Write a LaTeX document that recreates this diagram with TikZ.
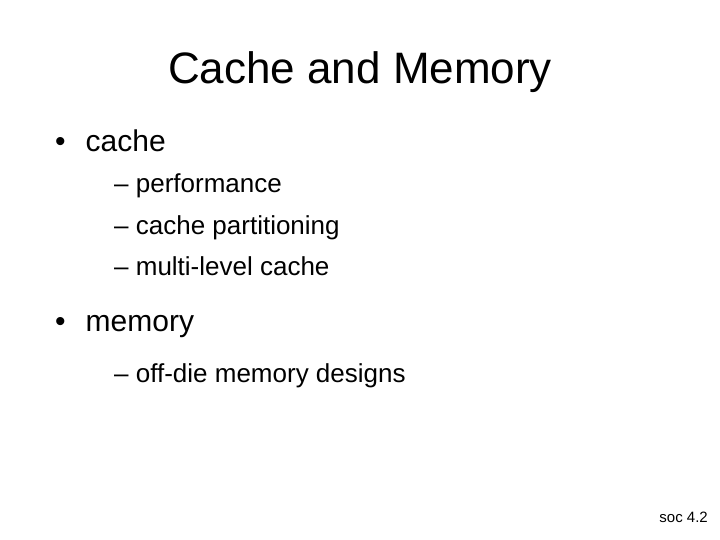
\documentclass[tikz,border=0pt]{standalone}
\usepackage{fontspec}
\setmainfont{Liberation Sans}
\begin{document}
\begin{tikzpicture}[x=1pt,y=-1pt,
  title/.style={anchor=base,font=\fontsize{44}{48}\selectfont,inner sep=0},
  lvlone/.style={anchor=base west,font=\fontsize{30}{34}\selectfont,inner sep=0},
  lvltwo/.style={anchor=base west,font=\fontsize{26}{30}\selectfont,inner sep=0},
  foot/.style={anchor=base east,font=\fontsize{15}{17}\selectfont,inner sep=0}]
\useasboundingbox (0,0) rectangle (720,540);
\node[title] (t) at (360,84) {Cache and Memory};
\node[lvlone] (b1) at (55,152) {•\hspace{20pt}cache};
\node[lvltwo] (s1) at (114,193) {– performance};
\node[lvltwo] (s2) at (114,235) {– cache partitioning};
\node[lvltwo] (s3) at (114,275) {– multi-level cache};
\node[lvlone] (b2) at (55,331) {•\hspace{20pt}memory};
\node[lvltwo] (s4) at (114,382) {– off-die memory designs};
\node[foot] (f) at (708,522) {soc 4.2};
\end{tikzpicture}
\end{document}
